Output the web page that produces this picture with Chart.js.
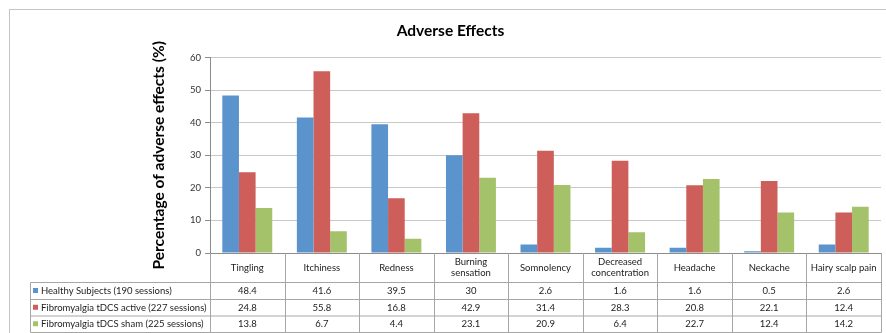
<!DOCTYPE html>
<html>
<head>
<meta charset="utf-8">
<script src="https://cdn.jsdelivr.net/npm/chart.js@4/dist/chart.umd.min.js"></script>
<style>
  html, body { margin: 0; padding: 0; background: #ffffff; }
  #wrap { width: 886px; height: 333px; }
</style>
</head>
<body>
<div id="wrap"><canvas id="chart" width="886" height="333"></canvas></div>
<script>
// Adverse effect categories (multi-line labels as arrays)
const categories = [
  'Tingling', 'Itchiness', 'Redness', ['Burning', 'sensation'], 'Somnolency',
  ['Decreased', 'concentration'], 'Headache', 'Neckache', 'Hairy scalp pain'
];
const seriesNames = [
  'Healthy Subjects (190 sessions)',
  'Fibromyalgia tDCS active (227 sessions)',
  'Fibromyalgia tDCS sham (225 sessions)'
];
const healthy = [48.4, 41.6, 39.5, 30, 2.6, 1.6, 1.6, 0.5, 2.6];
const active  = [24.8, 55.8, 16.8, 42.9, 31.4, 28.3, 20.8, 22.1, 12.4];
const sham    = [13.8, 6.7, 4.4, 23.1, 20.9, 6.4, 22.7, 12.4, 14.2];
const yTicks  = [0, 10, 20, 30, 40, 50, 60];

const colors = ['#5b93cd', '#cd5e59', '#a3c26a'];
const FONT = 'Lato, "Open Sans", sans-serif';
const LINE = '#a6a6a6';

// Outer frame around the whole chart
const framePlugin = {
  id: 'frame',
  beforeDraw(chart) {
    const ctx = chart.ctx;
    ctx.save();
    ctx.strokeStyle = '#c4c4c4';
    ctx.lineWidth = 1;
    ctx.strokeRect(9.5, 9.5, 900, 400);
    ctx.restore();
  }
};

// Data table under the plot: category header row plus one row per series
const tablePlugin = {
  id: 'dataTable',
  afterDraw(chart) {
    const ctx = chart.ctx;
    const area = chart.chartArea;
    const n = categories.length;
    const colW = (area.right - area.left) / n;
    const top = area.bottom;
    const legendLeft = 30.5;
    const rowY = [282.5, 299.5, 316, 332.5];
    const series = [healthy, active, sham];

    ctx.save();
    ctx.strokeStyle = LINE;
    ctx.lineWidth = 1;
    ctx.beginPath();
    for (let i = 0; i <= n; i++) {
      const x = Math.round(area.left + i * colW) + 0.5;
      ctx.moveTo(x, top);
      ctx.lineTo(x, rowY[3]);
    }
    ctx.moveTo(legendLeft, rowY[0]);
    ctx.lineTo(legendLeft, rowY[3]);
    rowY.forEach(y => {
      ctx.moveTo(legendLeft, y);
      ctx.lineTo(Math.round(area.right) + 0.5, y);
    });
    ctx.stroke();

    ctx.fillStyle = '#222';
    ctx.textAlign = 'center';
    ctx.textBaseline = 'middle';
    ctx.font = '9.5px ' + FONT;
    categories.forEach((lab, i) => {
      const cx = chart.scales.x.getPixelForValue(i);
      const lines = Array.isArray(lab) ? lab : [lab];
      const mid = (top + rowY[0]) / 2;
      lines.forEach((t, k) => {
        ctx.fillText(t, cx, mid + (k - (lines.length - 1) / 2) * 11);
      });
    });

    series.forEach((vals, r) => {
      const cy = (rowY[r] + rowY[r + 1]) / 2;
      ctx.textAlign = 'center';
      vals.forEach((v, i) => {
        ctx.fillText(String(v), chart.scales.x.getPixelForValue(i), cy);
      });
      ctx.fillStyle = colors[r];
      ctx.fillRect(33, cy - 3, 5, 5);
      ctx.fillStyle = '#222';
      ctx.textAlign = 'left';
      ctx.fillText(seriesNames[r], 41, cy);
    });
    ctx.restore();
  }
};

new Chart(document.getElementById('chart'), {
  type: 'bar',
  data: {
    labels: categories,
    datasets: [
      { label: seriesNames[0], data: healthy, backgroundColor: colors[0] },
      { label: seriesNames[1], data: active, backgroundColor: colors[1] },
      { label: seriesNames[2], data: sham, backgroundColor: colors[2] }
    ]
  },
  options: {
    responsive: false,
    animation: false,
    devicePixelRatio: 1,
    categoryPercentage: 0.67,
    barPercentage: 1,
    layout: { padding: { top: 0, bottom: 80, left: 20, right: 5 } },
    plugins: {
      legend: { display: false },
      tooltip: { enabled: false },
      title: {
        display: true,
        text: 'Adverse Effects',
        color: '#000',
        font: { family: FONT, size: 15.5, weight: 'bold' },
        padding: { top: 22, bottom: 17 }
      }
    },
    scales: {
      x: { display: false },
      y: {
        min: 0,
        max: 60,
        afterBuildTicks(scale) { scale.ticks = yTicks.map(v => ({ value: v })); },
        afterFit(scale) { scale.width = 190; },
        ticks: {
          color: '#333',
          padding: 4,
          font: { family: FONT, size: 9.5 }
        },
        grid: {
          color: ctx => ctx.index === 0 ? '#8c8c8c' : '#c8c8c8',
          tickColor: '#8c8c8c',
          tickLength: 5
        },
        border: { color: '#8c8c8c' },
        title: {
          display: true,
          text: 'Percentage of adverse effects (%)',
          color: '#000',
          font: { family: FONT, size: 15.5, weight: 'bold' },
          padding: { top: 130, bottom: 0 }
        }
      }
    }
  },
  plugins: [framePlugin, tablePlugin]
});
</script>
</body>
</html>
